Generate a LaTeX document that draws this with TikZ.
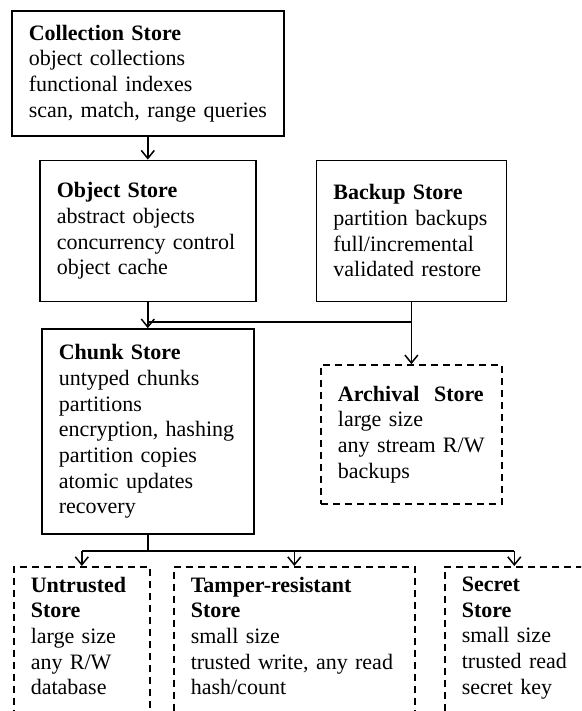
\documentclass[tikz,border=0pt]{standalone}
\usepackage{fontspec}
\setmainfont{Liberation Serif}
\usetikzlibrary{arrows.meta, positioning}

\newcommand{\storefont}{\fontsize{22pt}{25.7pt}\selectfont}

\begin{document}
\begin{tikzpicture}[
    x=1pt, y=-1pt,
    store/.style={draw, line width=1.6pt, align=left, inner xsep=17pt, inner ysep=0pt, font=\storefont},
    extstore/.style={store, dash pattern=on 7pt off 5pt},
    devstore/.style={extstore, inner ysep=10pt, text depth=150pt, anchor=north west},
    link/.style={line width=1.5pt},
    arr/.style={link, -{Straight Barb[length=8pt,width=13pt]}}
]
    \path[use as bounding box] (0,0) rectangle (581,711);
    \clip (0,0) rectangle (581,711);

    \node[store, text width=238pt, minimum height=125pt, anchor=north west] (coll) at (11,10)
        {\textbf{Collection Store}\\object collections\\functional indexes\\\mbox{scan, match, range queries}};

    \node[store, text width=182pt, minimum height=141pt, below=23pt of coll] (obj)
        {\textbf{Object Store}\\abstract objects\\\mbox{concurrency control}\\object cache};
    \node[store, text width=156pt, minimum height=141pt, right=59pt of obj] (backup)
        {\textbf{Backup Store}\\\mbox{partition backups}\\full/incremental\\\mbox{validated restore}};

    \node[store, text width=178pt, minimum height=205pt, below=26pt of obj] (chunk)
        {\textbf{Chunk Store}\\untyped chunks\\partitions\\\mbox{encryption, hashing}\\partition copies\\atomic updates\\recovery};
    \node[extstore, text width=147pt, minimum height=139pt, below=62pt of backup] (arch)
        {\mbox{\textbf{Archival\ \ Store}}\\large size\\\mbox{any stream R/W}\\backups};

    % trusted / untrusted devices
    \node[devstore, text width=102pt] (untr) at (13,566)
        {\textbf{Untrusted}\\\textbf{Store}\\large size\\any R/W\\database};
    \node[devstore, text width=207pt] (tamp) at (173,566)
        {\textbf{Tamper-resistant}\\\textbf{Store}\\small size\\\mbox{trusted write, any read}\\hash/count};
    \node[devstore, text width=105pt] (secr) at (444,566)
        {\textbf{Secret}\\\textbf{Store}\\small size\\\mbox{trusted read}\\secret key};

    \draw[arr] (coll.south) -- (coll.south |- obj.north);
    \draw[arr] (obj) -- (chunk);
    \draw[link] (backup.south) -- ++(0,20) coordinate (bj) -- (bj -| obj.south);
    \draw[arr] (bj) -- (arch);

    \draw[link] (chunk.south) -- ++(0,16) coordinate (cj);
    \draw[link] (cj -| untr.north) -- (cj -| secr.north);
    \foreach \dev in {untr, tamp, secr}
        \draw[arr] (cj -| \dev.north) -- (\dev.north);
\end{tikzpicture}
\end{document}
